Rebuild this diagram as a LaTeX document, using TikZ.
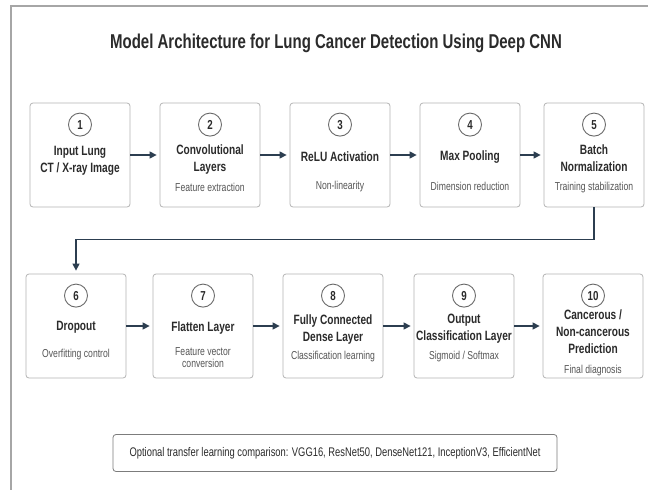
\documentclass[tikz,border=0pt]{standalone}
\usepackage{fontspec}
\setmainfont[FakeStretch=0.75]{Liberation Sans}
\usetikzlibrary{arrows.meta,positioning}
\definecolor{framegray}{HTML}{A6A6A6}
\definecolor{boxgray}{HTML}{B4B4B4}
\definecolor{circgray}{HTML}{6A6A6A}
\definecolor{notegray}{HTML}{7C7C7C}
\definecolor{txtdark}{HTML}{2B2B2B}
\definecolor{txtsub}{HTML}{555555}
\definecolor{arrowblue}{HTML}{2C3E50}
\begin{document}
\begin{tikzpicture}[x=1pt,y=-1pt,
	stagebox/.style={draw=boxgray, line width=0.8pt, rounded corners=3pt, minimum width=100pt, minimum height=104pt, inner sep=0pt},
	numcirc/.style={draw=circgray, line width=0.9pt, circle, minimum size=23pt, inner sep=0pt, font=\fontsize{13}{13}\selectfont\bfseries, text=txtdark},
	stagetitle/.style={align=center, font=\fontsize{13.5}{17}\selectfont\bfseries, text=txtdark, inner sep=0pt},
	stagesub/.style={align=center, font=\fontsize{11.5}{12.5}\selectfont, text=txtsub, inner sep=0pt},
	notebox/.style={draw=notegray, line width=0.8pt, rounded corners=3pt, minimum width=444pt, minimum height=37pt, font=\fontsize{12.5}{14}\selectfont, text=txtdark},
	flow/.style={-{Triangle[length=7pt,width=7pt]}, line width=1.4pt, draw=arrowblue, shorten >=3pt}
	]
					\useasboundingbox (0,0) rectangle (648,490);
					\fill[white] (0,0) rectangle (648,490);
					\draw[framegray, line width=1.2pt] (11,490) -- (11,6) -- (648,6);
					
					\node[font=\fontsize{20}{24}\selectfont\bfseries, text=txtdark] (title) at (336,43) {Model Architecture for Lung Cancer Detection Using Deep CNN};
					
					% first row
					\node[stagebox] (s1) at (80,155) {};
					\node[stagebox] (s2) at (210,155) {};
					\node[stagebox] (s3) at (340,155) {};
					\node[stagebox] (s4) at (470,155) {};
					\node[stagebox] (s5) at (594,155) {};
					
					\node[numcirc] (n1) at ([yshift=-22pt]s1.north) {1};
					\node[numcirc] (n2) at ([yshift=-22pt]s2.north) {2};
					\node[numcirc] (n3) at ([yshift=-22pt]s3.north) {3};
					\node[numcirc] (n4) at ([yshift=-22pt]s4.north) {4};
					\node[numcirc] (n5) at ([yshift=-22pt]s5.north) {5};
					
					\node[stagetitle] (t1) at ([yshift=-58pt]s1.north) {Input Lung\\CT / X-ray Image};
					\node[stagetitle] (t2) at ([yshift=-57pt]s2.north) {Convolutional\\Layers};
					\node[stagetitle] (t3) at ([yshift=-54pt]s3.north) {ReLU Activation};
					\node[stagetitle] (t4) at ([yshift=-54pt]s4.north) {Max Pooling};
					\node[stagetitle] (t5) at ([yshift=-56pt]s5.north) {Batch\\Normalization};
					
					\node[stagesub] (d2) at ([yshift=-85pt]s2.north) {Feature extraction};
					\node[stagesub] (d3) at ([yshift=-84pt]s3.north) {Non-linearity};
					\node[stagesub] (d4) at ([yshift=-84pt]s4.north) {Dimension reduction};
					\node[stagesub] (d5) at ([yshift=-85pt]s5.north) {Training stabilization};
					
					% second row
					\node[stagebox] (s6) at (76,326) {};
					\node[stagebox] (s7) at (203,326) {};
					\node[stagebox] (s8) at (333,326) {};
					\node[stagebox] (s9) at (464,326) {};
					\node[stagebox] (s10) at (593,326) {};
					
					\node[numcirc] (n6) at ([yshift=-22pt]s6.north) {6};
					\node[numcirc] (n7) at ([yshift=-22pt]s7.north) {7};
					\node[numcirc] (n8) at ([yshift=-22pt]s8.north) {8};
					\node[numcirc] (n9) at ([yshift=-22pt]s9.north) {9};
					\node[numcirc] (n10) at ([yshift=-22pt]s10.north) {10};
					
					\node[stagetitle] (t6) at ([yshift=-54pt]s6.north) {Dropout};
					\node[stagetitle] (t7) at ([yshift=-54pt]s7.north) {Flatten Layer};
					\node[stagetitle] (t8) at ([yshift=-56pt]s8.north) {Fully Connected\\Dense Layer};
					\node[stagetitle] (t9) at ([yshift=-55pt]s9.north) {Output\\Classification Layer};
					\node[stagetitle] (t10) at ([yshift=-58pt]s10.north) {Cancerous /\\Non-cancerous\\Prediction};
					
					\node[stagesub] (d6) at ([yshift=-81pt]s6.north) {Overfitting control};
					\node[stagesub] (d7) at ([yshift=-84pt]s7.north) {Feature vector\\conversion};
					\node[stagesub] (d8) at ([yshift=-83pt]s8.north) {Classification learning};
					\node[stagesub] (d9) at ([yshift=-83pt]s9.north) {Sigmoid / Softmax};
					\node[stagesub] (d10) at ([yshift=-97pt]s10.north) {Final diagnosis};
					
					\draw[flow] (s1) -- (s2);
					\draw[flow] (s2) -- (s3);
					\draw[flow] (s3) -- (s4);
					\draw[flow] (s4) -- (s5);
					\draw[flow] (s5.south) -- ++(0,32) -| (s6.north);
					\draw[flow] (s6) -- (s7);
					\draw[flow] (s7) -- (s8);
					\draw[flow] (s8) -- (s9);
					\draw[flow] (s9) -- (s10);
					
					\node[notebox] (note) at (335,453) {Optional transfer learning comparison: VGG16, ResNet50, DenseNet121, InceptionV3, EfficientNet};
					
				\end{tikzpicture}
\end{document}
